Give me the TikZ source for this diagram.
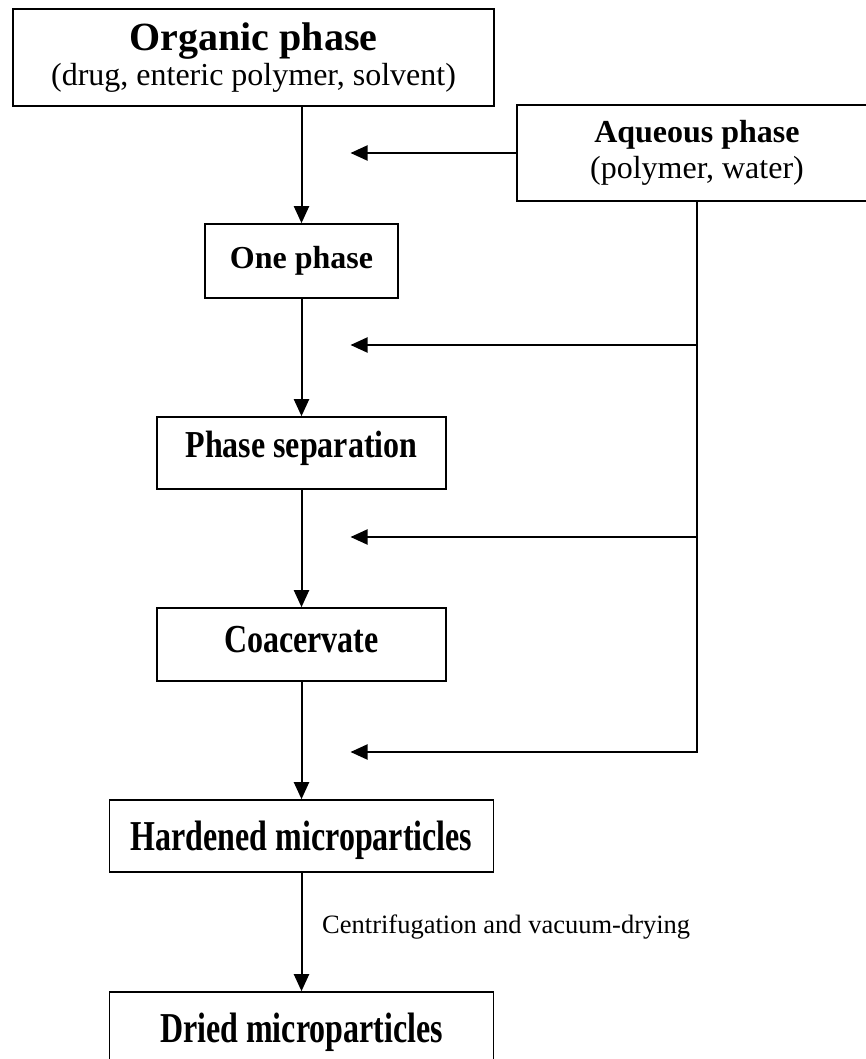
\documentclass[tikz,border=0pt]{standalone}
\usepackage{graphicx}
\usepackage{fontspec}
\setmainfont{Liberation Serif}
\usetikzlibrary{arrows.meta}
\begin{document}
\begin{tikzpicture}[x=1pt,y=-1pt,
  box/.style={draw, line width=1.6pt, rectangle, inner sep=0pt, align=center,
              font=\fontsize{32}{35.5}\selectfont\bfseries},
  conn/.style={line width=2pt},
  arr/.style={conn, -{Triangle[length=17pt,width=15pt]}},
  lbl/.style={inner sep=0pt, font=\fontsize{26.5}{30}\selectfont}]
\useasboundingbox (0,0) rectangle (866,1059);
\clip (0,0) rectangle (866,1059);
% boxes
\node[box, minimum width=481pt, minimum height=97pt] (org) at (253.5,57.5)
  {{\fontsize{40}{35.5}\selectfont Organic phase}\\\mdseries (drug, enteric polymer, solvent)};
\node[box, minimum width=360pt, minimum height=96pt] (aq) at (697,153)
  {Aqueous phase\\\mdseries (polymer, water)};
\node[box, minimum width=193pt, minimum height=74pt] (one) at (301.5,261) {One phase};
\node[box, minimum width=289pt, minimum height=72pt, text height=26pt, text depth=18pt] (sep) at (301.5,453)
  {\scalebox{1}[1.19]{Phase separation}};
\node[box, minimum width=289pt, minimum height=73pt, text height=27pt, text depth=12pt] (coa) at (301.5,644.5)
  {\scalebox{1}[1.24]{Coacervate}};
\node[box, minimum width=384pt, minimum height=72pt, text height=29pt, text depth=1pt] (hard) at (301.5,836)
  {\scalebox{1}[1.33]{Hardened microparticles}};
\node[box, minimum width=384pt, minimum height=72pt, text height=29pt, text depth=1pt] (dried) at (301.5,1028)
  {\scalebox{1}[1.33]{Dried microparticles}};
% main flow
\draw[arr] (one.north |- org.south) -- (one.north);
\draw[arr] (one) -- (sep);
\draw[arr] (sep) -- (coa);
\draw[arr] (coa) -- (hard);
\draw[arr] (hard) -- (dried);
\node[lbl, anchor=base west] (cv) at (322,933) {Centrifugation and vacuum-drying};
% aqueous feeds
\coordinate (t1) at (350.5,153);
\coordinate (t2) at (350.5,345);
\coordinate (t3) at (350.5,537);
\coordinate (t4) at (350.5,752);
\coordinate (j2) at (697,345);
\coordinate (j3) at (697,537);
\coordinate (j4) at (697,752);
\draw[arr] (aq.west) -- (t1);
\draw[arr] (j2) -- (t2);
\draw[arr] (j3) -- (t3);
\draw[arr, line join=miter] (aq.south) -- (j4) -- (t4);
\end{tikzpicture}
\end{document}
